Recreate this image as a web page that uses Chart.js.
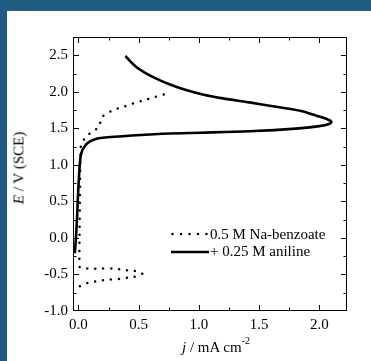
<!DOCTYPE html>
<html>
<head>
<meta charset="utf-8">
<script src="https://cdn.jsdelivr.net/npm/chart.js@4.4.1/dist/chart.umd.min.js"></script>
<style>
  html, body { margin: 0; padding: 0; }
  body {
    width: 371px; height: 361px; position: relative; overflow: hidden;
    background: #225b82;
    font-family: "Liberation Serif", "Times New Roman", serif;
  }
  #paper { position: absolute; left: 7px; top: 11px; right: 0; bottom: 0; background: #fff; }
  #wrap { position: absolute; left: 0; top: 0; width: 371px; height: 361px; }
  .txt { position: absolute; font-size: 15px; line-height: 15px; color: #000; white-space: nowrap; }
  .key { position: absolute; left: 171px; width: 39px; height: 6px; }
  #ytitle { left: 19px; top: 168px; transform: translate(-50%, -50%) rotate(-90deg); }
  #xtitle { left: 216px; top: 347px; transform: translate(-50%, -50%); }
  sup { font-size: 10px; line-height: 0; position: relative; top: -2px; }
</style>
</head>
<body>
<div id="paper"></div>
<div id="wrap"><canvas id="ivChart" width="371" height="361"></canvas></div>

<!-- legend -->
<svg class="key" style="top:231px" width="39" height="6">
  <line x1="1.5" y1="3" x2="38" y2="3" stroke="#000" stroke-width="2.5" stroke-linecap="round" stroke-dasharray="0 8.5"/>
</svg>
<div class="txt" style="left:210px; top:227px">0.5 M Na-benzoate</div>
<svg class="key" style="top:249px" width="39" height="6">
  <line x1="0" y1="3" x2="38" y2="3" stroke="#000" stroke-width="2.6"/>
</svg>
<div class="txt" style="left:210px; top:244px">+ 0.25 M aniline</div>

<!-- axis titles -->
<div class="txt" id="ytitle"><i>E</i> / V (SCE)</div>
<div class="txt" id="xtitle"><i>j</i> / mA cm<sup>-2</sup></div>

<script>
// Na-benzoate (dotted)
const benzoateJ = [0.012, 0.087, 0.165, 0.25, 0.34, 0.42, 0.46, 0.53, 0.46, 0.38, 0.29, 0.17, 0.08, 0.012,
  0.008, 0.012, 0.015, 0.018, 0.02, 0.035, 0.054, 0.08, 0.11, 0.15, 0.17, 0.18, 0.185, 0.2,
  0.29, 0.37, 0.455, 0.54, 0.635, 0.73, 0.76];
const benzoateE = [-0.66, -0.61, -0.59, -0.57, -0.56, -0.54, -0.535, -0.49, -0.45, -0.44, -0.42, -0.42, -0.42, -0.40,
  -0.30, 0.5, 1.0, 1.18, 1.25, 1.31, 1.37, 1.41, 1.45, 1.49, 1.53, 1.57, 1.62, 1.665,
  1.75, 1.79, 1.84, 1.88, 1.93, 1.975, 1.99];

// + aniline (solid)
const anilineJ = [-0.03, -0.02, -0.01, 0.0, 0.012, 0.02, 0.035, 0.07, 0.12, 0.2, 0.48, 0.76, 1.01, 1.42, 1.83,
  2.0, 2.08, 2.10, 2.07, 1.98, 1.84, 1.6, 1.42, 1.2, 1.04, 0.9, 0.76, 0.62, 0.48, 0.39];
const anilineE = [-0.21, 0.01, 0.33, 0.7, 1.02, 1.13, 1.21, 1.29, 1.34, 1.37, 1.405, 1.43, 1.44, 1.46, 1.50,
  1.53, 1.56, 1.59, 1.62, 1.67, 1.74, 1.805, 1.855, 1.91, 1.96, 2.02, 2.10, 2.20, 2.34, 2.49];

const xTickValues = [0.0, 0.5, 1.0, 1.5, 2.0];
const yTickValues = [-1.0, -0.5, 0.0, 0.5, 1.0, 1.5, 2.0, 2.5];

const toPoints = (xs, ys) => xs.map((v, i) => ({ x: v, y: ys[i] }));

// frame + inward ticks on all four sides
const frameTicks = {
  id: "frameTicks",
  afterDatasetsDraw(chart) {
    const { ctx, chartArea: a, scales } = chart;
    ctx.save();
    ctx.strokeStyle = "#000";
    ctx.lineWidth = 1;
    ctx.strokeRect(a.left + 0.5, a.top + 0.5, a.right - a.left - 1, a.bottom - a.top - 1);
    const major = 6, minor = 3.5;
    ctx.beginPath();
    xTickValues.forEach((v) => {
      [[v, major], [v + 0.25, minor]].forEach(([t, len]) => {
        const px = Math.round(scales.x.getPixelForValue(t)) + 0.5;
        if (px <= a.left + 1 || px >= a.right - 1) return;
        ctx.moveTo(px, a.bottom); ctx.lineTo(px, a.bottom - len);
        ctx.moveTo(px, a.top); ctx.lineTo(px, a.top + len);
      });
    });
    yTickValues.forEach((v) => {
      [[v, major], [v + 0.25, minor]].forEach(([t, len]) => {
        const py = Math.round(scales.y.getPixelForValue(t)) + 0.5;
        if (py <= a.top + 1 || py >= a.bottom - 1) return;
        ctx.moveTo(a.left, py); ctx.lineTo(a.left + len, py);
        ctx.moveTo(a.right, py); ctx.lineTo(a.right - len, py);
      });
    });
    ctx.stroke();
    ctx.restore();
  },
};

const ivCtx = document.getElementById("ivChart").getContext("2d");

new Chart(ivCtx, {
  type: "scatter",
  data: {
    datasets: [
      {
        label: "0.5 M Na-benzoate",
        data: toPoints(benzoateJ, benzoateE),
        showLine: true,
        borderColor: "#000",
        borderWidth: 2.5,
        borderDash: [0, 8],
        borderCapStyle: "round",
        tension: 0.3,
        pointRadius: 0,
      },
      {
        label: "+ 0.25 M aniline",
        data: toPoints(anilineJ, anilineE),
        showLine: true,
        borderColor: "#000",
        borderWidth: 2.6,
        tension: 0.3,
        pointRadius: 0,
      },
    ],
  },
  options: {
    responsive: false,
    animation: false,
    events: [],
    layout: { padding: { top: 37, right: 24, left: 0, bottom: 0 } },
    plugins: {
      legend: { display: false },
      tooltip: { enabled: false },
    },
    scales: {
      x: {
        type: "linear",
        min: -0.045,
        max: 2.229,
        afterBuildTicks: (s) => { s.ticks = xTickValues.map((v) => ({ value: v })); },
        afterFit: (s) => { s.height = 50; },
        grid: { display: false, drawTicks: false },
        border: { display: false },
        ticks: {
          padding: 5,
          color: "#000",
          font: { family: "'Liberation Serif', 'Times New Roman', serif", size: 15 },
          callback: (v) => Number(v).toFixed(1),
        },
      },
      y: {
        type: "linear",
        min: -1.0,
        max: 2.75,
        afterBuildTicks: (s) => { s.ticks = yTickValues.map((v) => ({ value: v })); },
        afterFit: (s) => { s.width = 73; },
        grid: { display: false, drawTicks: false },
        border: { display: false },
        ticks: {
          padding: 5,
          color: "#000",
          font: { family: "'Liberation Serif', 'Times New Roman', serif", size: 15 },
          callback: (v) => Number(v).toFixed(1),
        },
      },
    },
  },
  plugins: [frameTicks],
});
</script>
</body>
</html>
